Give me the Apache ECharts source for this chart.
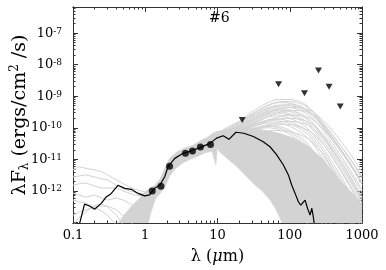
<!DOCTYPE html>
<html><head><meta charset="utf-8">
<script src="https://cdn.jsdelivr.net/npm/echarts@6/dist/echarts.min.js"></script>
<style>html,body{margin:0;padding:0;background:#fff}#c{width:386px;height:270px}</style>
</head><body><div id="c"></div>
<script>
// ---- tick labels ----
const xTickValues = [0.1, 1, 10, 100, 1000];
const xTickLabels = ['0.1', '1', '10', '100', '1000'];
const yTickExponents = [-12, -11, -10, -9, -8, -7];

// ---- observed photometry (um, erg/cm2/s) ----
const photLam  = [1.25, 1.65, 2.17, 3.6, 4.5, 5.8, 8.0];
const photFlux = [9.8e-13, 1.4e-12, 6.0e-12, 1.55e-11, 1.83e-11, 2.45e-11, 2.95e-11];

// ---- upper limits ----
const limLam  = [22, 70, 160, 250, 350, 500];
const limFlux = [1.77e-10, 2.4e-9, 1.25e-9, 6.5e-9, 2.0e-9, 4.7e-10];

// ---- best-fit model (black) ----
const bestLam  = [0.123,0.1445,0.169,0.199,0.246,0.289,0.339,0.419,0.519,0.643,0.793,0.98,1.15,1.35,1.59,1.86,2.07,2.56,3.34,4.37,5.70,7.85,9.73,12.0,14.4,18.0,23.2,31.3,43,53.3,66,81.6,95.7,106.7,118.5,131.8,142,163,176,191,202,213,218];
const bestFlux = [9e-14,3.8e-13,3.3e-13,2.6e-13,4.0e-13,6.4e-13,8.3e-13,1.5e-12,1.2e-12,1.12e-12,8.3e-13,6.9e-13,7.4e-13,1.2e-12,1.5e-12,2.8e-12,5.9e-12,1.07e-11,1.55e-11,1.86e-11,2.34e-11,3.2e-11,4.7e-11,5.6e-11,4.3e-11,7.2e-11,6.7e-11,5.3e-11,3.6e-11,2.5e-11,1.38e-11,6.6e-12,3.2e-12,1.5e-12,8.3e-13,4.5e-13,3.5e-13,5.1e-13,2.8e-13,1.7e-13,2.8e-13,1.38e-13,9e-14];

// ---- dense region of grey models (near-IR band), outline ----
const bandLam  = [0.415,0.519,0.649,0.811,0.98,1.15,1.35,1.59,1.86,2.18,2.73,3.53,4.56,5.70,7.36,8.64,9.8,10.4,9.5,8.36,6.68,5.34,4.27,3.31,2.65,2.18,1.86,1.59,1.40,1.23,1.08];
const bandFlux = [8.9e-14,1.8e-13,3.3e-13,5.5e-13,9.1e-13,1.23e-12,1.5e-12,2.3e-12,5.2e-12,1.1e-11,1.7e-11,2.3e-11,2.8e-11,3.8e-11,5.1e-11,6.8e-11,7.6e-11,7.8e-11,6.6e-12,1.8e-11,1.58e-11,1.26e-11,1.02e-11,7.6e-12,5.2e-12,2.95e-12,1.32e-12,7.9e-13,5.9e-13,2.5e-13,8e-14];
// ---- dense region of grey models (far-IR), outline ----
const farLam  = [9.8,12.6,17.0,27.2,43.6,69.8,112,181,291,466,683,1000,1000,81.3,64.7,53.4,41.3,31.0,24.0,18.6,13.9,11.1,10.2];
const farFlux = [7.6e-11,8.5e-11,9.8e-11,9.8e-11,8.5e-11,6.8e-11,4.8e-11,2.6e-11,1.0e-11,2.5e-12,1.0e-12,4.0e-13,8e-14,8e-14,2.5e-13,5.1e-13,9.8e-13,1.74e-12,3.2e-12,5.8e-12,1.02e-11,1.58e-11,2.0e-11];

// ---- grey models, far-IR part ----
const fanLam = [10,15,20,30,50,70,100,150,200,300,500,700,1000];
const fanFlux = [
  [6.8e-11,1.15e-10,1.6e-10,3.2e-10,6.3e-10,7.9e-10,7.9e-10,6.2e-10,3.7e-10,1.3e-10,2.8e-11,9.5e-12,2.5e-12],
  [6.6e-11,1.1e-10,1.48e-10,2.75e-10,5.2e-10,6.6e-10,6.8e-10,5.5e-10,3.5e-10,1.12e-10,2.2e-11,7.1e-12,1.8e-12],
  [6.3e-11,1.0e-10,1.41e-10,2.6e-10,5.0e-10,6.3e-10,6.0e-10,4.5e-10,2.8e-10,1.0e-10,2.0e-11,6.3e-12,1.6e-12],
  [6.2e-11,9.5e-11,1.3e-10,2.4e-10,4.3e-10,5.2e-10,5.4e-10,4.3e-10,2.9e-10,1.05e-10,2.2e-11,7.0e-12,1.9e-12],
  [6.0e-11,8.9e-11,1.2e-10,2.2e-10,4.0e-10,5.0e-10,5.0e-10,3.8e-10,2.5e-10,9.5e-11,2.0e-11,6.3e-12,1.8e-12],
  [5.8e-11,8.7e-11,1.15e-10,2.0e-10,3.6e-10,4.5e-10,4.4e-10,3.3e-10,2.1e-10,7.5e-11,1.4e-11,4.2e-12,1.1e-12],
  [5.5e-11,8.0e-11,1.05e-10,1.7e-10,3.0e-10,3.9e-10,4.4e-10,4.2e-10,3.4e-10,1.6e-10,4.0e-11,1.4e-11,4.0e-12],
  [5.6e-11,8.3e-11,1.12e-10,1.9e-10,3.3e-10,4.0e-10,3.7e-10,2.6e-10,1.6e-10,5.0e-11,8.9e-12,2.5e-12,5.6e-13],
  [5.4e-11,8.0e-11,1.06e-10,1.75e-10,3.0e-10,3.6e-10,3.3e-10,2.3e-10,1.4e-10,4.4e-11,7.5e-12,2.1e-12,5e-13],
  [5.0e-11,7.1e-11,8.9e-11,1.32e-10,2.2e-10,3.0e-10,3.5e-10,3.5e-10,2.8e-10,1.26e-10,2.8e-11,1.0e-11,2.8e-12],
  [5.2e-11,7.9e-11,1.05e-10,1.66e-10,2.75e-10,3.2e-10,2.8e-10,1.9e-10,1.12e-10,3.5e-11,6.3e-12,1.8e-12,4.0e-13],
  [5.1e-11,7.4e-11,9.5e-11,1.5e-10,2.5e-10,2.8e-10,2.5e-10,1.6e-10,9.5e-11,2.8e-11,4.6e-12,1.2e-12,2.8e-13],
  [4.8e-11,6.6e-11,8.2e-11,1.15e-10,1.75e-10,2.2e-10,2.5e-10,2.4e-10,1.9e-10,8.5e-11,1.9e-11,6.2e-12,1.6e-12],
  [5.0e-11,7.6e-11,9.5e-11,1.41e-10,2.2e-10,2.4e-10,2.0e-10,1.26e-10,7.1e-11,2.0e-11,3.2e-12,7.9e-13,1.6e-13],
  [4.5e-11,6.0e-11,7.6e-11,1.05e-10,1.58e-10,1.9e-10,2.0e-10,1.78e-10,1.32e-10,5.6e-11,1.12e-11,3.5e-12,8.9e-13],
  [5.0e-11,7.1e-11,8.9e-11,1.26e-10,1.78e-10,1.9e-10,1.58e-10,1.0e-10,5.6e-11,1.58e-11,2.5e-12,6.3e-13,1.26e-13],
  [4.9e-11,6.9e-11,8.5e-11,1.2e-10,1.6e-10,1.65e-10,1.35e-10,8.3e-11,4.6e-11,1.2e-11,1.8e-12,4.5e-13,9e-14],
  [4.3e-11,5.5e-11,6.6e-11,8.7e-11,1.25e-10,1.5e-10,1.6e-10,1.4e-10,1.05e-10,4.4e-11,9.0e-12,2.7e-12,6.5e-13],
  [4.8e-11,6.6e-11,7.9e-11,1.07e-10,1.41e-10,1.41e-10,1.12e-10,6.6e-11,3.5e-11,8.9e-12,1.26e-12,3.2e-13,6.3e-14],
  [4.0e-11,5.0e-11,6.0e-11,7.9e-11,1.12e-10,1.26e-10,1.26e-10,1.0e-10,7.1e-11,2.8e-11,5.0e-12,1.4e-12,3.2e-13],
  [4.7e-11,6.3e-11,7.6e-11,9.5e-11,1.2e-10,1.12e-10,8.3e-11,4.5e-11,2.2e-11,5.0e-12,6.3e-13,1.4e-13,3.2e-14],
  [4.6e-11,6.2e-11,7.3e-11,9.0e-11,1.1e-10,1.0e-10,7.3e-11,3.8e-11,1.8e-11,4.0e-12,4.8e-13,1.1e-13,2e-14],
  [4.5e-11,6.0e-11,7.1e-11,8.5e-11,1.0e-10,8.9e-11,6.3e-11,3.2e-11,1.5e-11,3.2e-12,3.5e-13,8e-14,1.5e-14],
  [4.1e-11,5.0e-11,5.7e-11,6.8e-11,8.0e-11,8.2e-11,7.5e-11,5.6e-11,3.8e-11,1.3e-11,2.0e-12,5e-13,1e-13],
  [4.4e-11,5.6e-11,6.3e-11,7.1e-11,7.6e-11,6.3e-11,4.0e-11,1.8e-11,7.9e-12,1.4e-12,1.4e-13,2.5e-14,5e-15],
  [4.3e-11,5.3e-11,5.9e-11,6.5e-11,6.6e-11,5.3e-11,3.2e-11,1.3e-11,5.6e-12,9.5e-13,9.5e-14,1.6e-14,3e-15],
  [4.2e-11,5.2e-11,5.6e-11,6.0e-11,5.6e-11,4.2e-11,2.4e-11,9.5e-12,4.0e-12,6.3e-13,6.3e-14,1e-14,2e-15],
  [4.0e-11,4.8e-11,5.0e-11,4.8e-11,3.8e-11,2.5e-11,1.26e-11,4.5e-12,1.6e-12,2.2e-13,2.5e-14,4e-15,1e-15],
  [3.9e-11,4.5e-11,4.5e-11,4.0e-11,2.9e-11,1.8e-11,8.5e-12,2.7e-12,9e-13,1.2e-13,1e-14,2e-15,4e-16],
  [3.8e-11,4.2e-11,4.0e-11,3.3e-11,2.2e-11,1.3e-11,5.6e-12,1.6e-12,5.0e-13,6.3e-14,5e-15,1e-15,2e-16],
  [3.5e-11,3.5e-11,3.2e-11,2.2e-11,1.2e-11,6.3e-12,2.2e-12,5.0e-13,1.4e-13,1.3e-14,1e-15,2e-16,5e-17],
  [3.2e-11,2.8e-11,2.2e-11,1.4e-11,6.0e-12,2.8e-12,8.9e-13,1.8e-13,5e-14,5e-15,3e-16,5e-17,1e-17]
];

// ---- grey models, UV/optical part ----
const uvLam = [0.1,0.12,0.15,0.2,0.25,0.3,0.4,0.5,0.7,1.0];
const uvFlux = [
  [4.6e-12,5.8e-12,5.2e-12,4.6e-12,4.0e-12,3.2e-12,2.2e-12,1.66e-12,1.15e-12,9.1e-13],
  [2.75e-12,2.95e-12,3.2e-12,2.75e-12,2.4e-12,2.2e-12,1.5e-12,1.15e-12,9.1e-13,7.9e-13],
  [1.5e-12,1.66e-12,1.78e-12,1.41e-12,1.23e-12,1.23e-12,1.23e-12,9.8e-13,7.4e-13,6.9e-13],
  [8.5e-13,7.4e-13,6.3e-13,7.4e-13,5.9e-13,5.1e-13,5.9e-13,5.1e-13,3.3e-13,2.5e-13],
  [5.1e-13,4.5e-13,4.1e-13,2.9e-13,2.3e-13,1.7e-13,8e-14],
  [1.7e-13,2.1e-13,2.5e-13,3.1e-13,3.3e-13,3.3e-13,2.5e-13,1.6e-13,8e-14],
  [8e-14,1.4e-13,2.1e-13,3.5e-13,3.8e-13,3.1e-13,1.7e-13,8e-14]
];

// ---------------------------------------------------------------
const L = Math.log10;
const toXY = (lam, f) => lam.map((v, i) => [L(v), L(f[i])]);
const GREY = '#d3d3d3';
const FONT = 'DejaVu Serif';
const XMIN = -1, XMAX = 3, YMIN = -13.02, YMAX = -6.17;

const xMinor = [], yMinor = [];
for (let n = -1; n < 3; n++) for (let k = 2; k <= 9; k++) xMinor.push(n + L(k));
for (let n = -14; n < -6; n++) for (let k = 2; k <= 9; k++) { const v = n + L(k); if (v > YMIN && v < YMAX) yMinor.push(v); }
const xMajor = xTickValues.map(L);
const yMajor = [-13].concat(yTickExponents);

const lineC = '#333';
function xAx(pos, vals, len, lab) {
  return { type: 'value', min: XMIN, max: XMAX, position: pos, splitLine: { show: false },
    axisLine: { show: true, onZero: false, lineStyle: { color: lineC, width: 1 } },
    axisTick: { show: true, inside: true, length: len, customValues: vals, lineStyle: { color: lineC } },
    axisLabel: lab ? { show: true, customValues: xMajor, margin: 6, color: '#000', fontFamily: FONT, fontSize: 13,
      formatter: v => { const i = xMajor.findIndex(m => Math.abs(m - v) < 1e-6); return i >= 0 ? xTickLabels[i] : ''; } } : { show: false }
  };
}
function yAx(pos, vals, len, lab) {
  return { type: 'value', min: YMIN, max: YMAX, position: pos, splitLine: { show: false },
    axisLine: { show: true, onZero: false, lineStyle: { color: lineC, width: 1 } },
    axisTick: { show: true, inside: true, length: len, customValues: vals, lineStyle: { color: lineC } },
    axisLabel: lab ? { show: true, customValues: yTickExponents, margin: 11, color: '#000', fontFamily: FONT, fontSize: 13,
      formatter: v => '10{s|' + Math.round(v) + '}',
      rich: { s: { fontSize: 9, fontFamily: FONT, color: '#000', verticalAlign: 'top', lineHeight: 10, padding: [0, 0, 8, 0] } } } : { show: false }
  };
}

const xAxes = [xAx('bottom', xMajor, 5, true), xAx('bottom', xMinor, 2.5, false), xAx('top', xMajor, 5, false), xAx('top', xMinor, 2.5, false)];
xAxes[0].name = '{n|λ (}{i|μ}{n|m)}';
xAxes[0].nameLocation = 'middle';
xAxes[0].nameGap = 26;
xAxes[0].nameMoveOverlap = false;
xAxes[0].nameTextStyle = { rich: { n: { fontFamily: FONT, fontSize: 16, color: '#000' }, i: { fontFamily: FONT, fontSize: 16, fontStyle: 'italic', color: '#000' } } };
const yAxes = [yAx('left', yMajor, 5, true), yAx('left', yMinor, 2.5, false), yAx('right', yMajor, 5, false), yAx('right', yMinor, 2.5, false)];
yAxes[0].name = '{n|λF}{b|λ}{n| (ergs/cm}{p|2}{n| /s)}';
yAxes[0].nameLocation = 'middle';
yAxes[0].nameGap = 42;
yAxes[0].nameRotate = 90;
yAxes[0].nameMoveOverlap = false;
yAxes[0].nameTextStyle = { rich: {
  n: { fontFamily: FONT, fontSize: 19, color: '#000', lineHeight: 22 },
  b: { fontFamily: FONT, fontSize: 12, color: '#000', verticalAlign: 'bottom', lineHeight: 15 },
  p: { fontFamily: FONT, fontSize: 12, color: '#000', verticalAlign: 'top', lineHeight: 13 } } };

const series = [];
function polySeries(poly) {
  return { type: 'custom', clip: true, silent: true, z: 1, data: [0],
    renderItem: (params, api) => ({ type: 'polygon', shape: { points: poly.map(p => api.coord(p)) }, style: { fill: GREY, stroke: GREY, lineWidth: 0.5 } }) };
}
series.push(polySeries(toXY(bandLam, bandFlux)));
series.push(polySeries(toXY(farLam, farFlux)));
fanFlux.forEach(f => series.push({ type: 'line', data: toXY(fanLam, f), showSymbol: false, smooth: 0.3, clip: true, silent: true, z: 2,
  lineStyle: { color: GREY, width: 1 } }));
uvFlux.forEach(f => series.push({ type: 'line', data: toXY(uvLam.slice(0, f.length), f), showSymbol: false, clip: true, silent: true, z: 2,
  lineStyle: { color: GREY, width: 1 } }));
series.push({ type: 'line', data: toXY(bestLam, bestFlux), showSymbol: false, clip: true, silent: true, z: 5,
  lineStyle: { color: '#000', width: 1.2 } });
series.push({ type: 'scatter', data: toXY(photLam, photFlux), symbol: 'circle', symbolSize: 7, z: 6,
  itemStyle: { color: '#000' } });
series.push({ type: 'scatter', data: toXY(limLam, limFlux), symbol: 'triangle', symbolRotate: 180, symbolSize: [7, 6], z: 6,
  itemStyle: { color: '#000' } });

const chart = echarts.init(document.getElementById('c'), null, { renderer: 'canvas' });
chart.setOption({
  animation: false,
  backgroundColor: '#fff',
  grid: { left: 73, right: 24, top: 7, bottom: 47, containLabel: false, outerBoundsMode: 'none' },
  xAxis: xAxes,
  yAxis: yAxes,
  graphic: [{ type: 'text', left: 209, top: 11, style: { text: '#6', fontFamily: FONT, fontSize: 14, fill: '#000' } }],
  series: series
});
</script></body></html>
